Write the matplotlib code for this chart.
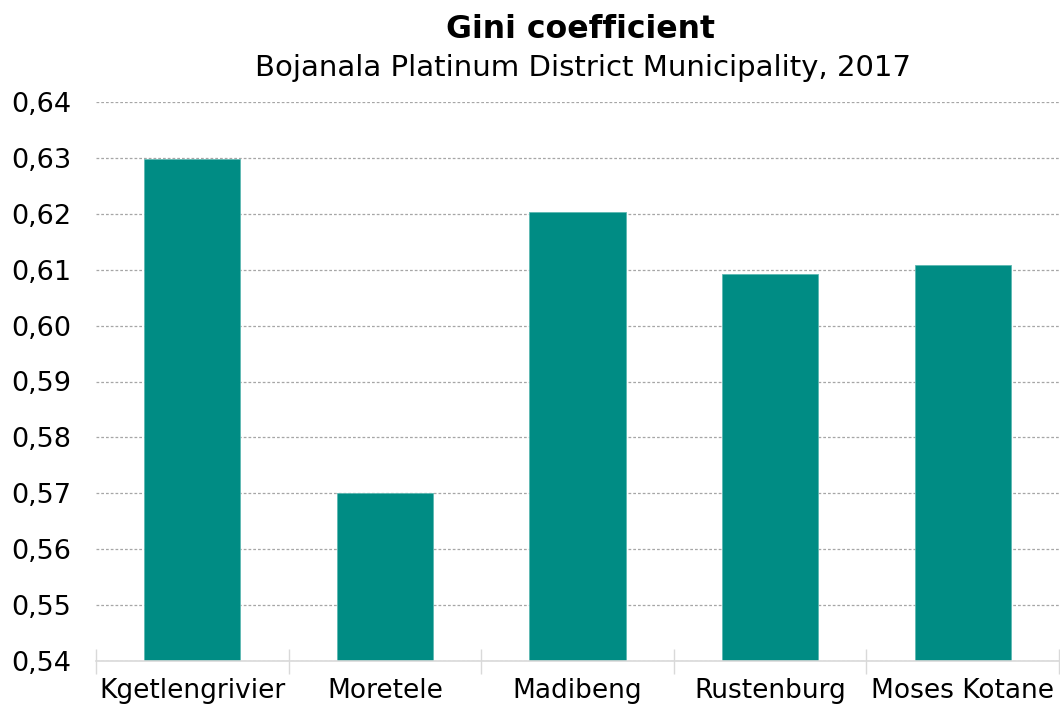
import matplotlib
matplotlib.use("Agg")
import matplotlib.pyplot as plt
from matplotlib.ticker import FixedLocator, FuncFormatter, MultipleLocator

municipalities = ["Kgetlengrivier", "Moretele", "Madibeng", "Rustenburg", "Moses Kotane"]
gini = [0.6298, 0.5701, 0.6204, 0.6092, 0.6108]

title = "Gini coefficient"
subtitle = "Bojanala Platinum District Municipality, 2017"

plt.rcParams["font.family"] = ["DejaVu Sans"]

fig = plt.figure(figsize=(10.6, 7.11), dpi=100)
ax = fig.add_axes([96 / 1060, 50 / 711, 963 / 1060, (661 - 102) / 711])

x = list(range(len(municipalities)))
ax.bar(x, gini, width=0.5, bottom=0, color="#008C84",
       edgecolor="#5DB8B2", linewidth=0.6, zorder=3)

ax.set_ylim(0.54, 0.64)
ax.set_xlim(-0.5, len(municipalities) - 0.5)
ax.yaxis.set_major_locator(MultipleLocator(0.01))
ax.yaxis.set_major_formatter(FuncFormatter(lambda v, p: f"{v:.2f}".replace(".", ",")))
ax.tick_params(axis="y", length=0, labelsize=19.5, pad=18, labelcolor="#000000")

ax.set_xticks(x)
ax.set_xticklabels(municipalities)
ax.tick_params(axis="x", which="major", length=0, labelsize=19, pad=12, labelcolor="#000000")
ax.xaxis.set_minor_locator(FixedLocator([i - 0.5 for i in range(len(municipalities) + 1)]))
ax.tick_params(axis="x", which="minor", direction="inout", length=18, width=1, color="#D9D9D9")

ax.grid(axis="y", linestyle=(0, (2.2, 1.6)), color="#A6A6A6", linewidth=0.9, zorder=0)
for side in ("left", "right", "top"):
    ax.spines[side].set_visible(False)
ax.spines["bottom"].set_color("#D9D9D9")
ax.spines["bottom"].set_linewidth(1.2)
ax.spines["bottom"].set_zorder(4)

fig.text(580 / 1060, 1 - 30 / 711, title, ha="center", va="center",
         fontsize=22.7, fontweight="bold", color="#000000")
fig.text(583 / 1060, 1 - 68 / 711, subtitle, ha="center", va="center",
         fontsize=21, color="#000000")

fig.savefig("out.png", dpi=100)
